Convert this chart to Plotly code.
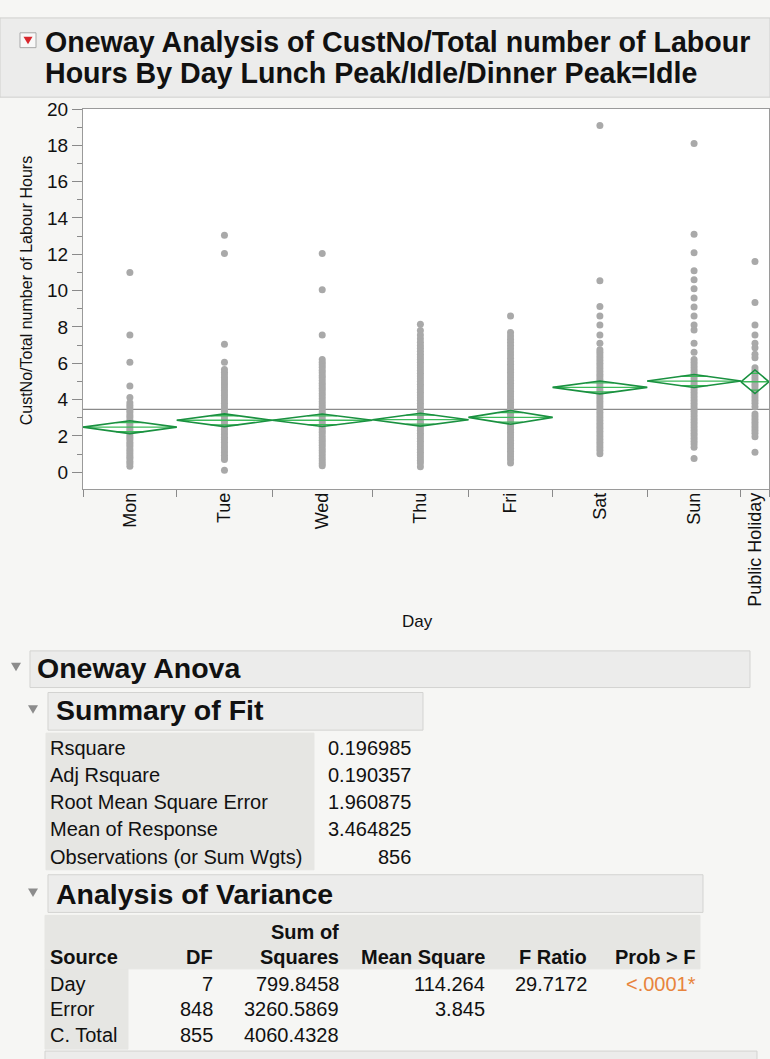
import plotly.graph_objects as go
import math

# ---------------- data ----------------
days = ["Mon", "Tue", "Wed", "Thu", "Fri", "Sat", "Sun", "Public Holiday"]
group_n = [117, 119, 125, 120, 105, 118, 117, 35]
group_means = [2.48, 2.86, 2.86, 2.89, 3.02, 4.67, 5.02, 4.98]

mon_vals = [11.0, 7.55, 6.05, 4.75, 4.12, 3.82, 3.68, 3.55, 3.4, 3.27, 3.12, 3.0, 2.85, 2.72,
            2.6, 2.45, 2.33, 2.2, 2.05, 1.92, 1.8, 1.65, 1.52, 1.4, 1.25, 1.12, 1.0, 0.87,
            0.75, 0.6, 0.48, 0.33]
tue_vals = [13.05, 12.05, 7.05, 6.05, 5.65, 5.5, 5.36, 5.22, 5.08, 4.93, 4.8, 4.65, 4.5, 4.36,
            4.22, 4.08, 3.93, 3.8, 3.65, 3.5, 3.36, 3.22, 3.08, 2.93, 2.8, 2.65, 2.5, 2.36,
            2.22, 2.08, 1.93, 1.8, 1.65, 1.5, 1.36, 1.22, 1.08, 0.93, 0.8, 0.7, 0.1]
wed_vals = [12.05, 10.05, 7.55, 6.2, 6.06, 5.92, 5.78, 5.62, 5.48, 5.33, 5.2, 5.05, 4.9, 4.76,
            4.62, 4.48, 4.33, 4.2, 4.05, 3.9, 3.76, 3.62, 3.48, 3.33, 3.2, 3.05, 2.9, 2.76,
            2.62, 2.48, 2.33, 2.2, 2.05, 1.9, 1.76, 1.62, 1.48, 1.33, 1.2, 1.05, 0.9, 0.76,
            0.62, 0.48, 0.35]
thu_vals = [8.15, 7.8, 7.55, 7.35, 7.15, 6.98, 6.82, 6.66, 6.5, 6.35, 6.2, 6.05, 5.9, 5.75,
            5.6, 5.45, 5.3, 5.15, 5.0, 4.85, 4.7, 4.55, 4.4, 4.25, 4.1, 3.95, 3.8, 3.65, 3.5,
            3.35, 3.2, 3.05, 2.9, 2.75, 2.6, 2.45, 2.3, 2.15, 2.0, 1.85, 1.7, 1.55, 1.4, 1.25,
            1.1, 0.95, 0.8, 0.65, 0.5, 0.3]
fri_vals = [8.6, 7.7, 7.5, 7.32, 7.15, 6.98, 6.8, 6.62, 6.45, 6.28, 6.1, 5.95, 5.8, 5.65, 5.5,
            5.35, 5.2, 5.05, 4.9, 4.75, 4.6, 4.45, 4.3, 4.15, 4.0, 3.85, 3.7, 3.55, 3.4, 3.25,
            3.1, 2.95, 2.8, 2.65, 2.5, 2.35, 2.2, 2.05, 1.9, 1.75, 1.6, 1.45, 1.3, 1.15, 1.0,
            0.85, 0.7, 0.5]
sat_vals = [19.1, 10.55, 9.12, 8.6, 8.1, 7.56, 7.1, 6.74, 6.6, 6.45, 6.3, 6.15, 6.0, 5.85, 5.7,
            5.55, 5.4, 5.25, 5.1, 4.95, 4.8, 4.65, 4.5, 4.35, 4.2, 4.05, 3.9, 3.75, 3.6, 3.45,
            3.3, 3.15, 3.0, 2.85, 2.7, 2.55, 2.4, 2.25, 2.1, 1.95, 1.8, 1.65, 1.5, 1.35, 1.2,
            1.02]
sun_vals = [18.1, 13.1, 12.08, 11.1, 10.6, 10.1, 9.6, 9.1, 8.6, 8.1, 7.83, 7.1, 6.6, 6.2, 6.05,
            5.9, 5.75, 5.6, 5.45, 5.3, 5.15, 5.0, 4.85, 4.7, 4.55, 4.4, 4.25, 4.1, 3.95, 3.8,
            3.65, 3.5, 3.35, 3.2, 3.05, 2.9, 2.75, 2.6, 2.45, 2.3, 2.15, 2.0, 1.85, 1.7, 1.55,
            1.38, 0.75]
ph_vals = [11.6, 9.35, 8.1, 7.56, 7.1, 6.85, 6.5, 6.3, 5.75, 5.6, 5.45, 5.3, 5.15, 5.0, 4.85,
           4.7, 4.55, 4.4, 4.25, 4.1, 3.95, 3.8, 3.6, 3.2, 3.05, 2.9, 2.75, 2.6, 2.45, 2.3,
           2.15, 1.95, 1.1]
day_values = [mon_vals, tue_vals, wed_vals, thu_vals, fri_vals, sat_vals, sun_vals, ph_vals]

grand_mean = 3.464825
rmse = 1.960875
t_crit = 1.96275  # t(0.975, 848)

y_ticks = [0, 2, 4, 6, 8, 10, 12, 14, 16, 18, 20]

fit_labels = ["Rsquare", "Adj Rsquare", "Root Mean Square Error", "Mean of Response",
              "Observations (or Sum Wgts)"]
fit_values = ["0.196985", "0.190357", "1.960875", "3.464825", "856"]

anova_sources = ["Day", "Error", "C. Total"]
anova_df = ["7", "848", "855"]
anova_ss = ["799.8458", "3260.5869", "4060.4328"]
anova_ms = ["114.264", "3.845", ""]
anova_f = ["29.7172", "", ""]
anova_p = ["<.0001*", "", ""]

# ---------------- page geometry ----------------
W, H = 770, 1059
FONT = "Liberation Sans, Arial, Helvetica, sans-serif"


def px(x):
    return x / W


def py(y):
    return 1 - y / H


# group boundaries along the proportional x axis
bounds = [0]
for n in group_n:
    bounds.append(bounds[-1] + n)
centers = [(bounds[i] + bounds[i + 1]) / 2 for i in range(len(group_n))]

fig = go.Figure()

# grand mean line
fig.add_trace(go.Scatter(x=[bounds[0], bounds[-1]], y=[grand_mean, grand_mean], mode="lines",
                         line=dict(color="#8a8a8a", width=1.2), hoverinfo="skip",
                         showlegend=False))

# points per day
for i, vals in enumerate(day_values):
    fig.add_trace(go.Scatter(x=[centers[i]] * len(vals), y=vals, mode="markers",
                             marker=dict(size=7, color="#a9a9a9"), showlegend=False,
                             name=days[i]))

# means diamonds: outline, mean line and overlap marks
dx, dy, mx, my, ox, oy = [], [], [], [], [], []
for i, m in enumerate(group_means):
    h = t_crit * rmse / math.sqrt(group_n[i])
    x0, x1, c = bounds[i], bounds[i + 1], centers[i]
    dx += [x0, c, x1, c, x0, None]
    dy += [m, m + h, m, m - h, m, None]
    mx += [x0, x1, None]
    my += [m, m, None]
    k = 1 / math.sqrt(2)
    half = (x1 - x0) / 2 * (1 - k)
    for s in (1, -1):
        ox += [c - half, c + half, None]
        oy += [m + s * h * k, m + s * h * k, None]

fig.add_trace(go.Scatter(x=mx, y=my, mode="lines", line=dict(color="#3dbb5a", width=1.3),
                         hoverinfo="skip", showlegend=False))
fig.add_trace(go.Scatter(x=ox, y=oy, mode="lines", line=dict(color="#3dbb5a", width=1.3),
                         hoverinfo="skip", showlegend=False))
fig.add_trace(go.Scatter(x=dx, y=dy, mode="lines", line=dict(color="#1a9140", width=1.6),
                         hoverinfo="skip", showlegend=False))

# boundary tick carrier
fig.add_trace(go.Scatter(x=[bounds[0]], y=[0], xaxis="x2", mode="markers",
                         marker=dict(size=0.1, opacity=0), hoverinfo="skip",
                         showlegend=False))

plot_left, plot_right, plot_top, plot_bottom = 83, 769, 100, 484

fig.update_layout(
    width=W, height=H,
    margin=dict(l=0, r=0, t=0, b=0),
    paper_bgcolor="#f6f6f4",
    plot_bgcolor="#ffffff",
    font=dict(family=FONT, color="#111111"),
    xaxis=dict(domain=[px(plot_left), px(plot_right)], range=[bounds[0], bounds[-1]],
               tickvals=centers, ticktext=days, tickangle=-90, ticks="",
               ticklabelstandoff=-5,
               tickfont=dict(size=18, color="#111111"), showgrid=False, zeroline=False,
               showline=True, linecolor="#9a9a9a", linewidth=1, mirror=True),
    xaxis2=dict(domain=[px(plot_left), px(plot_right)], range=[bounds[0], bounds[-1]],
                overlaying="x", anchor="y", side="bottom", tickvals=bounds,
                showticklabels=False, ticks="outside", ticklen=7, tickcolor="#8a8a8a",
                showgrid=False, zeroline=False, showline=False),
    yaxis=dict(domain=[py(plot_bottom), py(plot_top)], range=[-0.95, 20],
               tickvals=y_ticks, ticks="outside", ticklen=10, tickcolor="#8a8a8a",
               tickfont=dict(size=19, color="#111111"),
               minor=dict(dtick=1, ticks="outside", ticklen=5, tickcolor="#8a8a8a"),
               showgrid=False, zeroline=False, showline=True, linecolor="#9a9a9a",
               linewidth=1, mirror=True),
)

shapes = []
ann = []


def box(x0, y0, x1, y1, fill, line="#d3d3d1", lw=1):
    shapes.append(dict(type="rect", xref="paper", yref="paper", x0=px(x0), x1=px(x1),
                       y0=py(y1), y1=py(y0), fillcolor=fill,
                       line=dict(color=line, width=lw), layer="below"))


def text(x, y, s, size, anchor="left", bold=False, color="#111111", angle=0):
    ann.append(dict(xref="paper", yref="paper", x=px(x), y=py(y), text=f"<b>{s}</b>" if bold else s,
                    showarrow=False, xanchor=anchor, yanchor="middle", textangle=angle,
                    font=dict(size=size, color=color, family=FONT)))


def down_triangle(x, y, size, color):
    path = (f"M {px(x - size / 2)} {py(y - size * 0.4)} L {px(x + size / 2)} {py(y - size * 0.4)} "
            f"L {px(x)} {py(y + size * 0.45)} Z")
    shapes.append(dict(type="path", xref="paper", yref="paper", path=path, fillcolor=color,
                       line=dict(width=0)))


# title bar
box(0, 8, 770, 88, "#ececeb", "#d0d0ce")
box(20, 23, 36, 38, "#f8f8f8", "#a8a8a8")
down_triangle(28, 30.5, 9, "#d8262c")
text(43, 32, "Oneway Analysis of CustNo/Total number of Labour", 28.6, bold=True)
text(43, 64, "Hours By Day Lunch Peak/Idle/Dinner Peak=Idle", 28.6, bold=True)

# axis titles
text(26, 284, "CustNo/Total number of Labour Hours", 16, anchor="center", angle=-90)
text(418, 617, "Day", 17, anchor="center")

# Oneway Anova outline
box(30, 647, 750, 684, "#ececeb")
down_triangle(16, 663, 10, "#8c8c8c")
text(35, 664, "Oneway Anova", 28.5, bold=True)

# Summary of Fit
box(48, 689, 423, 727, "#ececeb")
down_triangle(33, 706, 10, "#8c8c8c")
text(54, 707, "Summary of Fit", 28.5, bold=True)
box(46, 730, 314, 868, "#e6e6e3", "#e6e6e3")
row_y = [745, 772, 800, 827, 855]
for lab, val, y in zip(fit_labels, fit_values, row_y):
    text(48, y, lab, 20)
    text(413, y, val, 20, anchor="right")

# Analysis of Variance
box(48, 873, 703, 911, "#ececeb")
down_triangle(33, 891, 10, "#8c8c8c")
text(54, 892, "Analysis of Variance", 28.5, bold=True)
box(45, 914, 700, 968, "#e6e6e3", "#e6e6e3")
box(45, 968, 128, 1049, "#e6e6e3", "#e6e6e3")
text(341, 931, "Sum of", 20, anchor="right", bold=True)
hdr_y = 956
text(48, hdr_y, "Source", 20, bold=True)
col_right = [215, 341, 487, 589, 698]
for s, xr in zip(["DF", "Squares", "Mean Square", "F Ratio", "Prob &gt; F"], col_right):
    text(xr, hdr_y, s, 20, anchor="right", bold=True)
data_y = [983, 1009, 1035]
for r in range(3):
    y = data_y[r]
    text(48, y, anova_sources[r], 20)
    cols = [anova_df[r], anova_ss[r], anova_ms[r], anova_f[r]]
    for v, xr in zip(cols, col_right[:4]):
        if v:
            text(xr, y, v, 20, anchor="right")
    if anova_p[r]:
        text(col_right[4], y, anova_p[r].replace("<", "&lt;"), 20, anchor="right",
             color="#e8843c")

# next outline bar at the foot of the page
box(45, 1051, 757, 1070, "#ececeb")

fig.update_layout(shapes=shapes, annotations=ann)
fig.write_html("out.html")
